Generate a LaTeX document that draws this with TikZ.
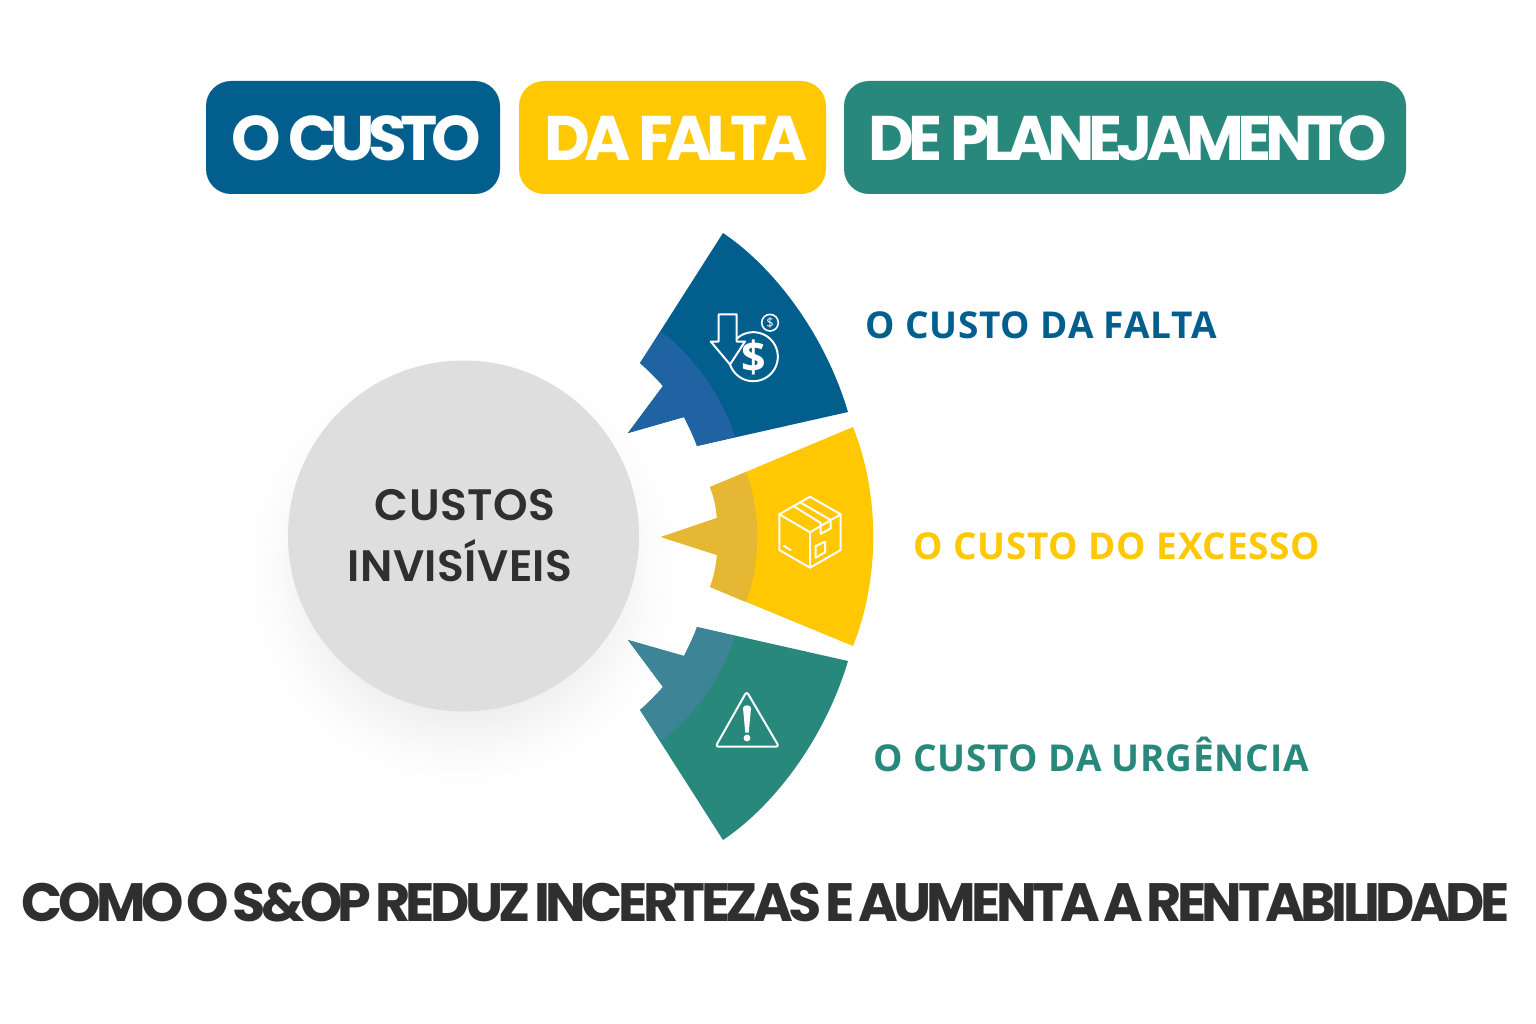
\documentclass[tikz,border=0pt]{standalone}
\usepackage{fontspec}
\setmainfont{Open Sans}
\newfontfamily\popA{Poppins}[LetterSpace=-10,WordSpace=1.1]
\newfontfamily\popB{Poppins}[LetterSpace=-8.4,WordSpace=0.5]
\newfontfamily\popC{Poppins}[UprightFont=* SemiBold,LetterSpace=1]
\newfontfamily\osL{Open Sans}[LetterSpace=2.1]
\definecolor{cblue}{HTML}{025F8D}
\definecolor{cblueL}{HTML}{1F63A3}
\definecolor{cyel}{HTML}{FFC803}
\definecolor{cyelL}{HTML}{E6B733}
\definecolor{cgreen}{HTML}{28887B}
\definecolor{cgreenL}{HTML}{3D8496}
\definecolor{cdark}{HTML}{2F2F2F}
\pgfdeclareradialshading{softshadow}{\pgfpoint{0bp}{0bp}}{color(0bp)=(black!8); color(15bp)=(black!7.5); color(18bp)=(black!4.5); color(21.5bp)=(black!1.5); color(25bp)=(white); color(50bp)=(white)}
\tikzset{
  x=1pt,y=-1pt,
  pill/.style={rounded corners=25pt},
  headtxt/.style={text=white,font=\popA\bfseries\fontsize{63}{63}\selectfont,inner sep=0pt,anchor=base},
  sidetxt/.style={font=\osL\bfseries\fontsize{37}{37}\selectfont,inner sep=0pt,anchor=base west},
  hubtxt/.style={font=\popC\fontsize{44}{44}\selectfont,text=cdark,inner sep=0pt,anchor=base},
  icon/.style={draw=white,line width=2pt,line join=round,line cap=round},
}
\begin{document}
\begin{tikzpicture}
\useasboundingbox (0,0) rectangle (1536,1024);
\fill[white] (0,0) rectangle (1536,1024);
% header pills
\fill[cblue,pill] (206,81) rectangle (500,194);
\fill[cyel,pill] (519,81) rectangle (826,194);
\fill[cgreen,pill] (844,81) rectangle (1406,194);
\node[headtxt] (h1) at (356,160.5) {O CUSTO};
\node[headtxt] (h2) at (676,160.5) {DA FALTA};
\node[headtxt] (h3) at (1128,160.5) {DE PLANEJAMENTO};
% shadow
\shade[shading=softshadow] (463,570) circle (220);
\node[circle,fill=black!13,minimum size=351pt,inner sep=0pt] (hub) at (463.5,536) {};
\node[hubtxt] (t1) at (465,520) {CUSTOS};
\node[hubtxt] (t2) at (460,581) {INVISÍVEIS};
% blue wedge
\fill[cblue] (723,233) .. controls (775,268) and (825,335) .. (848,412) -- (697,446)
  .. controls (693,435) and (689,427) .. (684,417) -- (628,433) -- (663,386)
  .. controls (656,378) and (648,370) .. (640,363) -- cycle;
\fill[cblueL] (661,332) .. controls (690,352) and (722,395) .. (735,437) -- (697,446)
  .. controls (693,435) and (689,427) .. (684,417) -- (628,433) -- (663,386)
  .. controls (656,378) and (648,370) .. (640,363) -- cycle;
% yellow wedge
\fill[cyel] (853,427) .. controls (880,495) and (880,578) .. (853,646) -- (710,587)
  .. controls (714,577) and (716,566) .. (717,555) -- (661,537) -- (717,518)
  .. controls (716,507) and (714,497) .. (710,487) -- cycle;
\fill[cyelL] (746,472) .. controls (761,510) and (761,564) .. (746,602) -- (710,587)
  .. controls (714,577) and (716,566) .. (717,555) -- (661,537) -- (717,518)
  .. controls (716,507) and (714,497) .. (710,487) -- cycle;
% green wedge
\fill[cgreen] (723,840) .. controls (775,805) and (825,738) .. (848,661) -- (697,627)
  .. controls (693,638) and (689,646) .. (684,656) -- (628,640) -- (663,687)
  .. controls (656,695) and (648,703) .. (640,710) -- cycle;
\fill[cgreenL] (661,741) .. controls (690,721) and (722,678) .. (735,636) -- (697,627)
  .. controls (693,638) and (689,646) .. (684,656) -- (628,640) -- (663,687)
  .. controls (656,695) and (648,703) .. (640,710) -- cycle;
% dollar icon
\draw[icon] (745,341.5) -- (736.7,341.5) -- (736.7,314.3) -- (718.7,314.3) -- (718.7,341.5) -- (710.7,341.5) -- (730,364.5) -- (745,341.5);
\draw[icon] plot[domain=228:521.5,samples=70,smooth] ({753.3+24.5*cos(\x)},{356.7+24.5*sin(\x)});
\draw[icon,line width=1.6pt] (770,322.7) circle (8.3);
\node[text=white,font=\bfseries\fontsize{43}{43}\selectfont,inner sep=0pt] (d1) at (754,357) {\$};
\node[text=white,font=\fontsize{13}{13}\selectfont,inner sep=0pt] (d2) at (770,322.7) {\$};
% box icon
\draw[icon] (810,496.7) -- (840.7,514.3) -- (840.7,550) -- (810,567.7) -- (779.3,550) -- (779.3,514.3) -- cycle;
\draw[icon] (779.3,514.3) -- (810,532.3) -- (840.7,514.3);
\draw[icon] (810,532.3) -- (810,567.7);
\draw[icon] (793.3,506) -- (820.7,523) -- (820.7,534) -- (830.7,528.3) -- (830.7,520) -- (800,502.3);
\draw[icon] (815.7,546) -- (825,541.7) -- (825,552.3) -- (815.7,557.7) -- cycle;
\draw[icon] (784,546) -- (790.7,550);
% warning icon
\draw[icon,rounded corners=3pt] (746.7,691.5) -- (779,746.7) -- (715.5,746.7) -- cycle;
\fill[white] (743,708) .. controls (743,704.5) and (751,704.5) .. (751,708) -- (748.7,732.7) -- (745.3,732.7) -- cycle;
\fill[white] (747,738) circle (3.4);
% side labels
\node[sidetxt,text=cblue] (s1) at (865,338) {O CUSTO DA FALTA};
\node[sidetxt,text=cyel] (s2) at (913,559) {O CUSTO DO EXCESSO};
\node[sidetxt,text=cgreen] (s3) at (873,771) {O CUSTO DA URGÊNCIA};
% bottom title
\node[text=cdark,font=\popB\bfseries\fontsize{54}{54}\selectfont,inner sep=0pt,anchor=base] (foot) at (765.5,921.5) {COMO O S\&OP REDUZ INCERTEZAS E AUMENTA A RENTABILIDADE};
\end{tikzpicture}
\end{document}
